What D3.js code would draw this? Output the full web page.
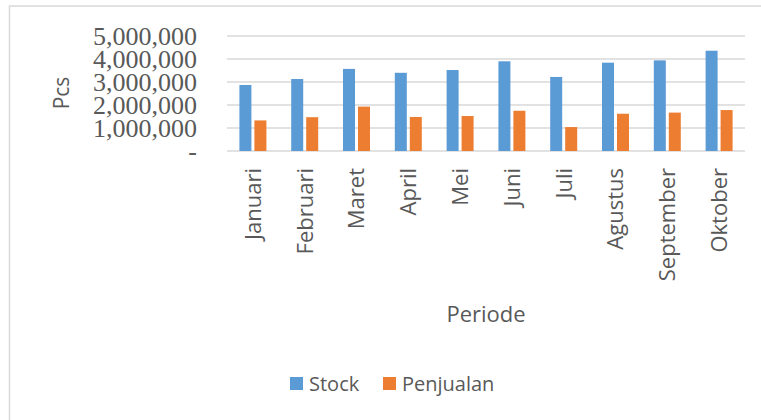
<!DOCTYPE html>
<html>
<head>
<meta charset="utf-8">
<script src="https://cdn.jsdelivr.net/npm/d3@7"></script>
<style>
  body { margin: 0; background: #fff; }
  svg { display: block; }
</style>
</head>
<body>
<div id="mainDiv"></div>
<script>
// Data
const months = ["Januari", "Februari", "Maret", "April", "Mei", "Juni", "Juli", "Agustus", "September", "Oktober"];
const stock = [2870000, 3130000, 3570000, 3400000, 3520000, 3900000, 3220000, 3840000, 3940000, 4360000];
const penjualan = [1330000, 1470000, 1930000, 1480000, 1520000, 1750000, 1040000, 1620000, 1670000, 1780000];
const seriesNames = ["Stock", "Penjualan"];
const yTicks = [0, 1000000, 2000000, 3000000, 4000000, 5000000];

const colors = { Stock: "#5b9bd5", Penjualan: "#ed7d31" };
const chartSize = { width: 761, height: 420, margin: { top: 36, right: 16, bottom: 269, left: 227 } };

const rows = months.map((m, i) => ({ month: m, Stock: stock[i], Penjualan: penjualan[i] }));

const svg = d3.select("#mainDiv")
  .append("svg")
  .attr("width", chartSize.width)
  .attr("height", chartSize.height);

// chart frame
svg.append("rect")
  .attr("x", 9.5).attr("y", 6)
  .attr("width", 800).attr("height", 500)
  .attr("fill", "none")
  .attr("stroke", "#d9d9d9")
  .attr("stroke-width", 1.5);

let x0 = d3.scaleBand()
  .domain(months)
  .range([227, 745])
  .paddingInner(0.479)
  .paddingOuter(0.2395);

let x1 = d3.scaleBand()
  .domain(seriesNames)
  .range([0, x0.bandwidth()])
  .paddingInner(0.2);

let y = d3.scaleLinear()
  .domain([0, 5000000])
  .range([151, 36]);

// gridlines
svg.append("g")
  .selectAll("line")
  .data(yTicks)
  .join("line")
  .attr("x1", 227).attr("x2", 745)
  .attr("y1", d => y(d)).attr("y2", d => y(d))
  .attr("stroke", "#d9d9d9")
  .attr("stroke-width", 1.5);

// y axis labels
let yAxis = g => g
  .attr("transform", "translate(197,0)")
  .call(d3.axisLeft(y)
    .tickValues(yTicks)
    .tickSize(0)
    .tickPadding(0)
    .tickFormat(d => d === 0 ? "-" : d3.format(",")(d)))
  .call(g => g.select(".domain").remove())
  .call(g => g.selectAll("text")
    .attr("fill", "#595959")
    .attr("font-family", "'Liberation Serif', serif")
    .attr("font-size", 26)
    .attr("dy", "0.34em"));

svg.append("g").call(yAxis);

// bars
svg.append("g")
  .selectAll("g")
  .data(rows)
  .join("g")
  .attr("transform", d => `translate(${x0(d.month)},0)`)
  .selectAll("rect")
  .data(d => seriesNames.map(s => ({ key: s, value: d[s] })))
  .join("rect")
  .attr("x", d => x1(d.key))
  .attr("y", d => y(d.value))
  .attr("width", x1.bandwidth())
  .attr("height", d => y(0) - y(d.value))
  .attr("fill", d => colors[d.key]);

// category labels
let xAxis = g => g
  .attr("transform", "translate(0,168)")
  .call(d3.axisBottom(x0).tickSize(0).tickPadding(0))
  .call(g => g.select(".domain").remove())
  .call(g => g.selectAll("text")
    .attr("transform", "rotate(-90)")
    .attr("text-anchor", "end")
    .attr("x", 0)
    .attr("y", 0)
    .attr("dy", "0.36em")
    .attr("fill", "#595959")
    .attr("font-family", "'Open Sans', sans-serif")
    .attr("font-size", 22));

svg.append("g").call(xAxis);

// axis titles
svg.append("text")
  .attr("transform", "translate(61,93) rotate(-90)")
  .attr("text-anchor", "middle")
  .attr("dy", "0.36em")
  .attr("fill", "#595959")
  .attr("font-family", "'Open Sans', sans-serif")
  .attr("font-size", 21)
  .text("Pcs");

svg.append("text")
  .attr("x", 486)
  .attr("y", 322)
  .attr("text-anchor", "middle")
  .attr("fill", "#595959")
  .attr("font-family", "'Open Sans', sans-serif")
  .attr("font-size", 22)
  .text("Periode");

// legend
const legendX = [290, 383];
const legend = svg.append("g")
  .selectAll("g")
  .data(seriesNames)
  .join("g")
  .attr("transform", (d, i) => `translate(${legendX[i]},377)`);

legend.append("rect")
  .attr("width", 13)
  .attr("height", 13)
  .attr("fill", d => colors[d]);

legend.append("text")
  .attr("x", 19)
  .attr("y", 14)
  .attr("fill", "#595959")
  .attr("font-family", "'Open Sans', sans-serif")
  .attr("font-size", 20)
  .text(d => d);
</script>
</body>
</html>
